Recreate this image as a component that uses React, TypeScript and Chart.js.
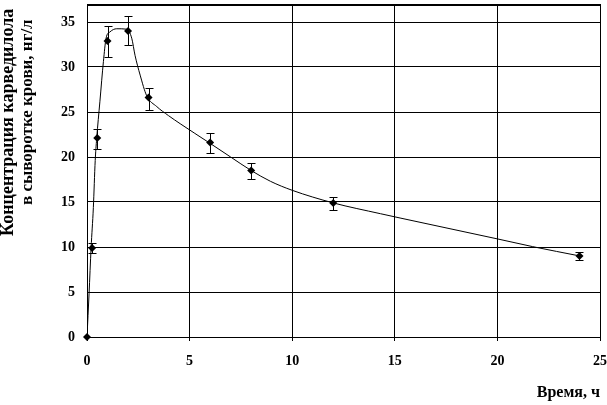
import React, { useEffect, useRef } from "react";
import { Chart, registerables } from "chart.js";
Chart.register(...registerables);

// Measured points (time, h / concentration)
const times = [0, 0.25, 0.5, 1, 2, 3, 6, 8, 12, 24];
const conc = [0, 9.9, 22.1, 32.9, 34.0, 26.6, 21.6, 18.5, 14.9, 9.0];
const errLow = [0, 9.3, 20.9, 31.1, 32.4, 25.2, 20.5, 17.6, 14.1, 8.6];
const errHigh = [0, 10.4, 23.1, 34.5, 35.7, 27.7, 22.7, 19.3, 15.6, 9.4];

// Fitted curve
const fitTimes = [0, 0.1, 0.2, 0.31, 0.4, 0.47, 0.63, 0.8, 0.93, 1.12, 1.45, 1.94, 2.18, 2.34, 2.59, 2.91, 3.4, 3.97, 4.54, 5.97, 7.0, 8.0, 8.94, 10.0, 12.0, 14.3, 15.3, 20.0, 21.7, 24.07];
const fitConc = [0, 4.8, 9.9, 14.4, 19.6, 22.0, 26.2, 30.6, 33.2, 33.9, 34.25, 34.2, 33.2, 31.3, 29.1, 26.8, 25.6, 24.6, 23.7, 21.56, 20.0, 18.5, 17.3, 16.3, 14.9, 13.7, 13.2, 10.9, 10.05, 8.98];

const xTickValues = [0, 5, 10, 15, 20, 25];
const yTickValues = [0, 5, 10, 15, 20, 25, 30, 35];

const yTitle1 = "Концентрация карведилола";
const yTitle2 = "в сыворотке крови, нг/л";
const xTitle = "Время, ч";

const FONT = "'Liberation Serif', 'Times New Roman', serif";

export default function App() {
  const ref = useRef<HTMLCanvasElement | null>(null);

  useEffect(() => {
    document.body.style.margin = "0";
    const canvas = ref.current;
    if (!canvas) return;

    const errorBars = {
      id: "errorBars",
      afterDatasetsDraw(chart: any) {
        const { ctx, scales } = chart;
        const xs = scales.x, ys = scales.y;
        ctx.save();
        ctx.strokeStyle = "#000";
        ctx.lineWidth = 1;
        times.forEach((t, i) => {
          if (errHigh[i] - errLow[i] <= 0) return;
          const x = Math.round(xs.getPixelForValue(t)) + 0.5;
          const y1 = Math.round(ys.getPixelForValue(errLow[i])) + 0.5;
          const y2 = Math.round(ys.getPixelForValue(errHigh[i])) + 0.5;
          ctx.beginPath();
          ctx.moveTo(x, y1);
          ctx.lineTo(x, y2);
          ctx.moveTo(x - 4, y1);
          ctx.lineTo(x + 4, y1);
          ctx.moveTo(x - 4, y2);
          ctx.lineTo(x + 4, y2);
          ctx.stroke();
        });
        ctx.restore();
      },
    };

    const frameAndTitles = {
      id: "frameAndTitles",
      beforeDatasetsDraw(chart: any) {
        const { ctx, chartArea } = chart;
        ctx.save();
        ctx.strokeStyle = "#000";
        ctx.lineWidth = 1;
        ctx.beginPath();
        ctx.moveTo(chartArea.right + 0.5, chartArea.top);
        ctx.lineTo(chartArea.right + 0.5, chartArea.bottom);
        ctx.stroke();
        ctx.lineWidth = 2;
        ctx.beginPath();
        ctx.moveTo(chartArea.left, chartArea.top + 1);
        ctx.lineTo(chartArea.right + 1, chartArea.top + 1);
        ctx.stroke();
        ctx.restore();
      },
      afterDraw(chart: any) {
        const { ctx, chartArea } = chart;
        ctx.save();
        ctx.fillStyle = "#000";
        ctx.save();
        ctx.translate(8, 236);
        ctx.rotate(-Math.PI / 2);
        ctx.font = `bold 18px ${FONT}`;
        ctx.textAlign = "left";
        ctx.textBaseline = "middle";
        ctx.fillText(yTitle1, 0, 0);
        ctx.restore();
        ctx.save();
        ctx.translate(28, 205);
        ctx.rotate(-Math.PI / 2);
        ctx.font = `bold 17px ${FONT}`;
        ctx.textAlign = "left";
        ctx.textBaseline = "middle";
        ctx.fillText(yTitle2, 0, 0);
        ctx.restore();
        ctx.font = `bold 16px ${FONT}`;
        ctx.textAlign = "right";
        ctx.textBaseline = "alphabetic";
        ctx.fillText(xTitle, chartArea.right, 397);
        ctx.restore();
      },
    };

    const chart = new Chart(canvas, {
      type: "scatter",
      data: {
        datasets: [
          {
            type: "scatter",
            data: times.map((t, i) => ({ x: t, y: conc[i] })),
            pointStyle: "rectRot",
            pointRadius: 4,
            backgroundColor: "#000",
            borderColor: "#000",
            borderWidth: 0,
            clip: false,
          } as any,
          {
            type: "line",
            data: fitTimes.map((t, i) => ({ x: t, y: fitConc[i] })),
            borderColor: "#000",
            borderWidth: 1,
            pointRadius: 0,
            fill: false,
            cubicInterpolationMode: "monotone",
          } as any,
        ],
      },
      options: {
        responsive: false,
        animation: false,
        events: [],
        layout: { padding: { left: 0, top: 2, right: 7, bottom: 0 } },
        plugins: { legend: { display: false }, tooltip: { enabled: false } },
        scales: {
          x: {
            type: "linear",
            min: 0,
            max: 25,
            afterBuildTicks: (s: any) => {
              s.ticks = xTickValues.map((v) => ({ value: v }));
            },
            afterFit: (s: any) => {
              s.height = 68;
              s.paddingLeft = 0;
              s.paddingRight = 0;
              s.paddingTop = 0;
              s.paddingBottom = 0;
            },
            ticks: {
              stepSize: 5,
              color: "#000",
              font: { family: FONT, size: 14, weight: "bold" },
              padding: 12,
              maxRotation: 0,
            },
            grid: { color: "#000", lineWidth: 1, tickLength: 4, drawTicks: true },
            border: { display: true, color: "#000", width: 1 },
          },
          y: {
            type: "linear",
            min: 0,
            max: 37,
            afterBuildTicks: (s: any) => {
              s.ticks = yTickValues.map((v) => ({ value: v }));
            },
            afterFit: (s: any) => {
              s.width = 87;
              s.paddingLeft = 0;
              s.paddingRight = 0;
              s.paddingTop = 0;
              s.paddingBottom = 0;
            },
            ticks: {
              stepSize: 5,
              color: "#000",
              font: { family: FONT, size: 14, weight: "bold" },
              padding: 12,
            },
            grid: { color: "#000", lineWidth: 1, drawTicks: false, tickLength: 0 },
            border: { display: true, color: "#000", width: 1 },
          },
        },
      },
      plugins: [errorBars, frameAndTitles],
    } as any);

    return () => chart.destroy();
  }, []);

  return (
    <div style={{ width: 607, height: 405, background: "#fff" }}>
      <canvas ref={ref} width={607} height={405} style={{ display: "block" }} />
    </div>
  );
}
